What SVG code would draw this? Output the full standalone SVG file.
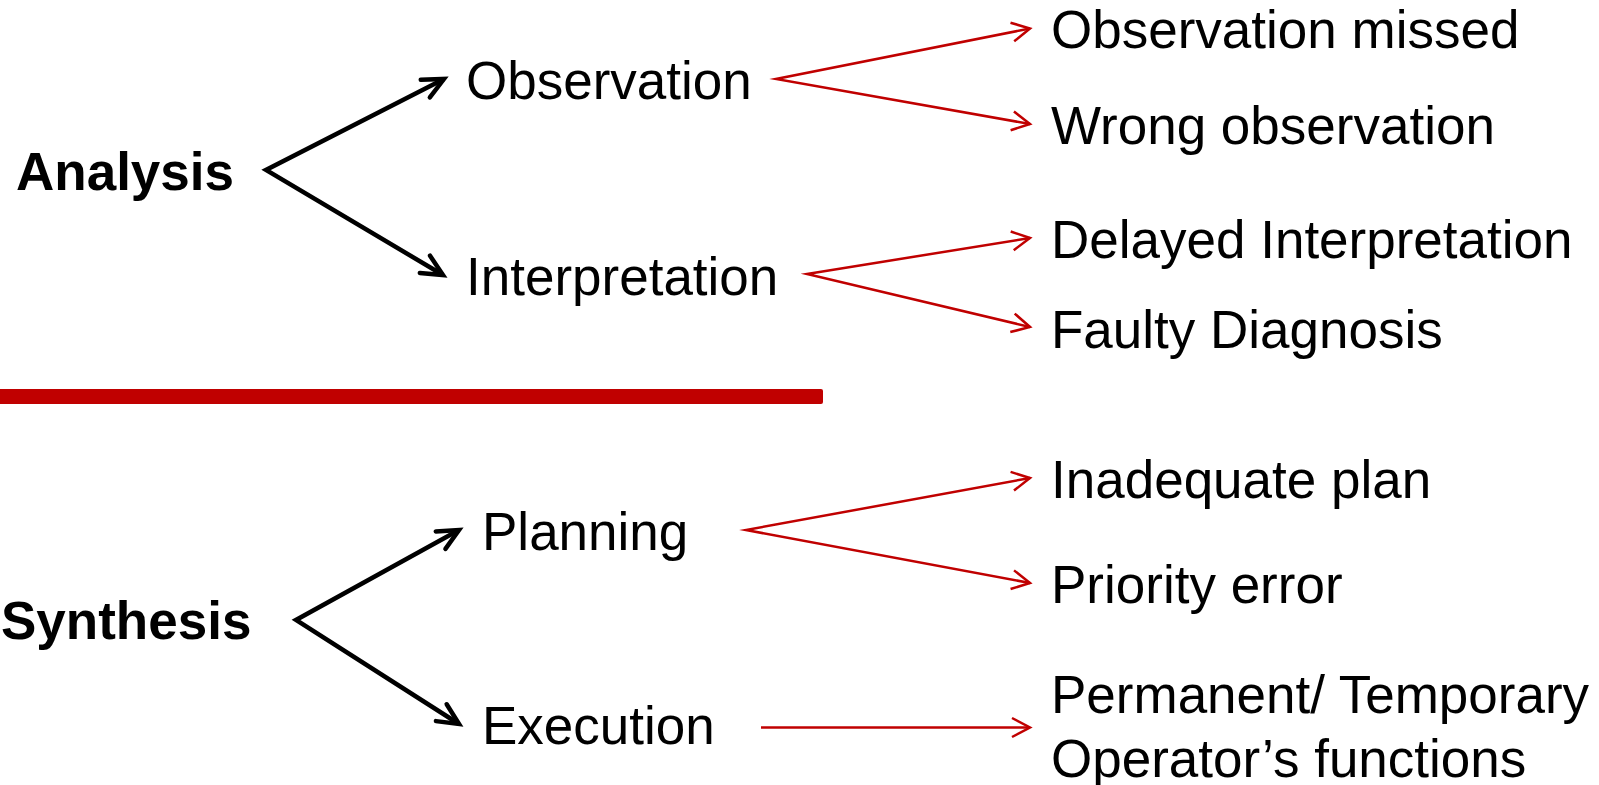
<svg xmlns="http://www.w3.org/2000/svg" width="1599" height="785" viewBox="0 0 1599 785">
  <style>
    text { font-family: "Liberation Sans", Arial, sans-serif; font-size: 53px; fill: #000; }
    .head { font-weight: bold; }
    .main { fill: none; stroke: #000; stroke-width: 4.5; stroke-linejoin: miter; stroke-miterlimit: 10; marker-start: url(#headBlack); marker-end: url(#headBlack); }
    .sub { fill: none; stroke: #C00000; stroke-width: 2.5; stroke-linejoin: miter; stroke-miterlimit: 10; }
    .fork { marker-start: url(#headRed); marker-end: url(#headRed); }
    .single { marker-end: url(#headRed); }
  </style>
  <defs>
    <marker id="headBlack" markerUnits="userSpaceOnUse" viewBox="-30 -20 40 40" markerWidth="40" markerHeight="40" refX="0" refY="0" orient="auto-start-reverse" overflow="visible">
      <path d="M -21 -10 L 0 0 L -21 10" fill="none" stroke="#000" stroke-width="4.5" stroke-linecap="round" stroke-linejoin="miter"/>
    </marker>
    <marker id="headRed" markerUnits="userSpaceOnUse" viewBox="-30 -20 40 40" markerWidth="40" markerHeight="40" refX="0" refY="0" orient="auto-start-reverse" overflow="visible">
      <path d="M -18 -9.5 L 0 0 L -18 9.5" fill="none" stroke="#C00000" stroke-width="2.5" stroke-linecap="butt" stroke-linejoin="miter"/>
    </marker>
  </defs>

  <!-- divider between the two halves -->
  <rect id="divider" x="-4" y="389" width="827" height="15" rx="2" fill="#C00000"/>

  <g id="connectors">
    <path class="main" d="M 444 79 L 266 170 L 443 275"/>
    <path class="main" d="M 459 530 L 296 620 L 459 724"/>
    <path class="sub fork" d="M 1030 28.5 L 776 79 L 1030 124"/>
    <path class="sub fork" d="M 1030 238 L 807 274 L 1030 327"/>
    <path class="sub fork" d="M 1030 478 L 746 530 L 1030 583"/>
    <path class="sub single" d="M 761 727.5 L 1030 727.5"/>
  </g>

  <g id="analysis"><text class="head" x="16" y="190">Analysis</text></g>
  <g id="observation"><text x="466" y="99">Observation</text></g>
  <g id="interpretation"><text x="466" y="295">Interpretation</text></g>
  <g id="observation-missed"><text x="1051" y="48">Observation missed</text></g>
  <g id="wrong-observation"><text x="1051" y="144">Wrong observation</text></g>
  <g id="delayed-interpretation"><text x="1051" y="258">Delayed Interpretation</text></g>
  <g id="faulty-diagnosis"><text x="1051" y="348">Faulty Diagnosis</text></g>

  <g id="synthesis"><text class="head" x="1" y="639">Synthesis</text></g>
  <g id="planning"><text x="482" y="550">Planning</text></g>
  <g id="execution"><text x="482" y="744">Execution</text></g>
  <g id="inadequate-plan"><text x="1051" y="498">Inadequate plan</text></g>
  <g id="priority-error"><text x="1051" y="603">Priority error</text></g>
  <g id="operator-functions">
    <text x="1051" y="713">Permanent/ Temporary</text>
    <text x="1051" y="777">Operator’s functions</text>
  </g>
</svg>
